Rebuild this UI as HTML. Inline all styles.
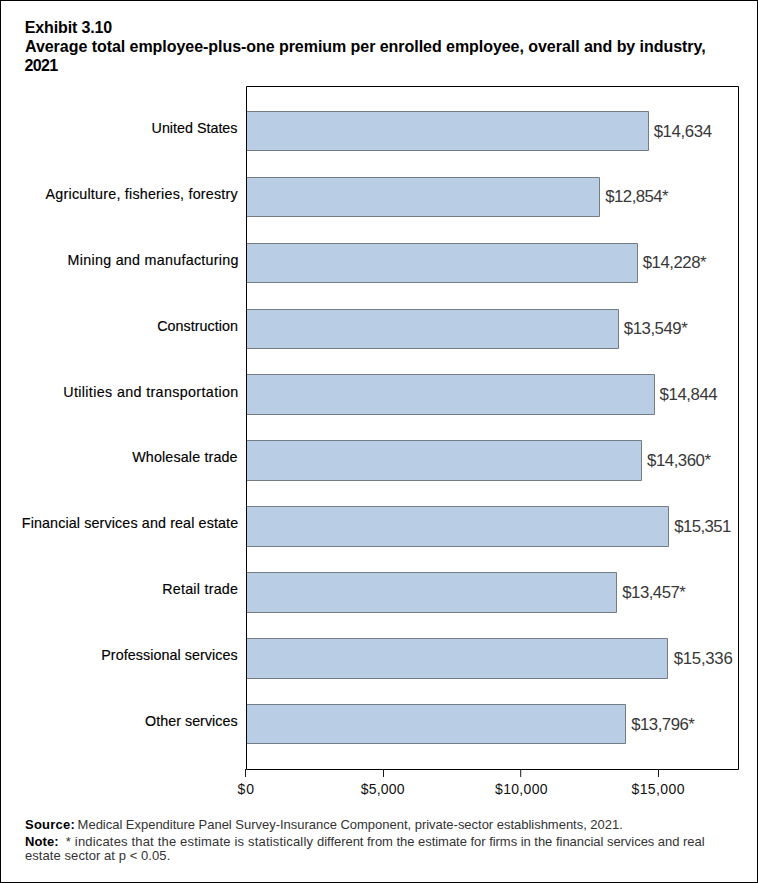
<!DOCTYPE html>
<html><head><meta charset="utf-8"><style>
html,body{margin:0;padding:0;background:#fff;}
#wrap{position:relative;width:758px;height:883px;box-sizing:border-box;border:1px solid #000;overflow:hidden;background:#fff;}
svg{position:absolute;left:-1px;top:-1px;}
text{font-family:"Liberation Sans",sans-serif;white-space:pre;}
.title{font-weight:bold;font-size:16px;fill:#000;}
.val{font-size:16.8px;fill:#383838;}
.cat{font-size:14.3px;fill:#000;stroke:#000;stroke-width:0.15px;}
.tick{font-size:14px;fill:#111;}
.foot{font-size:13px;fill:#333;}
.b{font-weight:bold;fill:#000;}
</style></head><body><div id="wrap">
<svg width="758" height="883" viewBox="0 0 758 883">
<text id="title0" x="24.80" y="32.9" class="title" textLength="87.32" lengthAdjust="spacing">Exhibit 3.10</text>
<text id="title1" x="25.00" y="51.7" class="title" textLength="680.62" lengthAdjust="spacing">Average total employee-plus-one premium per enrolled employee, overall and by industry,</text>
<text id="title2" x="24.40" y="70.6" class="title" textLength="33.79" lengthAdjust="spacing">2021</text>
<path d="M246.5 111.50 H648.50 V150.50 H246.5" fill="#B9CDE5" stroke="#747C85" stroke-width="1"/>
<path d="M246.5 177.50 H599.50 V216.50 H246.5" fill="#B9CDE5" stroke="#747C85" stroke-width="1"/>
<path d="M246.5 243.50 H637.50 V282.50 H246.5" fill="#B9CDE5" stroke="#747C85" stroke-width="1"/>
<path d="M246.5 309.50 H618.50 V348.50 H246.5" fill="#B9CDE5" stroke="#747C85" stroke-width="1"/>
<path d="M246.5 374.50 H654.50 V414.50 H246.5" fill="#B9CDE5" stroke="#747C85" stroke-width="1"/>
<path d="M246.5 440.50 H641.50 V480.50 H246.5" fill="#B9CDE5" stroke="#747C85" stroke-width="1"/>
<path d="M246.5 506.50 H668.50 V546.50 H246.5" fill="#B9CDE5" stroke="#747C85" stroke-width="1"/>
<path d="M246.5 572.50 H616.50 V612.50 H246.5" fill="#B9CDE5" stroke="#747C85" stroke-width="1"/>
<path d="M246.5 638.50 H667.50 V678.50 H246.5" fill="#B9CDE5" stroke="#747C85" stroke-width="1"/>
<path d="M246.5 704.50 H625.50 V743.50 H246.5" fill="#B9CDE5" stroke="#747C85" stroke-width="1"/>
<text id="val0" x="653.64" y="136.50" class="val" textLength="58.44" lengthAdjust="spacing">$14,634</text>
<text id="val1" x="605.33" y="202.42" class="val" textLength="63.26" lengthAdjust="spacing">$12,854*</text>
<text id="val2" x="642.69" y="268.34" class="val" textLength="63.86" lengthAdjust="spacing">$14,228*</text>
<text id="val3" x="623.83" y="334.26" class="val" textLength="63.86" lengthAdjust="spacing">$13,549*</text>
<text id="val4" x="659.61" y="400.18" class="val" textLength="58.04" lengthAdjust="spacing">$14,844</text>
<text id="val5" x="647.11" y="466.10" class="val" textLength="63.86" lengthAdjust="spacing">$14,360*</text>
<text id="val6" x="674.15" y="532.02" class="val" textLength="57.24" lengthAdjust="spacing">$15,351</text>
<text id="val7" x="622.30" y="597.94" class="val" textLength="63.46" lengthAdjust="spacing">$13,457*</text>
<text id="val8" x="673.73" y="663.86" class="val" textLength="59.04" lengthAdjust="spacing">$15,336</text>
<text id="val9" x="631.21" y="729.78" class="val" textLength="63.66" lengthAdjust="spacing">$13,796*</text>
<text id="cat0" x="151.60" y="133.00" class="cat" textLength="85.86" lengthAdjust="spacing">United States</text>
<text id="cat1" x="45.60" y="198.60" class="cat" textLength="192.10" lengthAdjust="spacing">Agriculture, fisheries, forestry</text>
<text id="cat2" x="67.60" y="264.50" class="cat" textLength="170.91" lengthAdjust="spacing">Mining and manufacturing</text>
<text id="cat3" x="157.20" y="331.20" class="cat" textLength="80.79" lengthAdjust="spacing">Construction</text>
<text id="cat4" x="63.20" y="397.10" class="cat" textLength="175.07" lengthAdjust="spacing">Utilities and transportation</text>
<text id="cat5" x="132.20" y="461.70" class="cat" textLength="105.37" lengthAdjust="spacing">Wholesale trade</text>
<text id="cat6" x="21.80" y="528.40" class="cat" textLength="216.38" lengthAdjust="spacing">Financial services and real estate</text>
<text id="cat7" x="162.20" y="594.30" class="cat" textLength="75.79" lengthAdjust="spacing">Retail trade</text>
<text id="cat8" x="101.20" y="660.30" class="cat" textLength="136.48" lengthAdjust="spacing">Professional services</text>
<text id="cat9" x="145.00" y="726.20" class="cat" textLength="92.65" lengthAdjust="spacing">Other services</text>
<path d="M246.5 86.5 V769.5 H738.5 V86.5 Z" fill="none" stroke="#000" stroke-width="1"/>
<path d="M245.5 769 V777" stroke="#1a1a1a" stroke-width="1"/>
<text id="tick0" x="237.50" y="794" class="tick" textLength="16.58" lengthAdjust="spacing">$0</text>
<path d="M383.5 769 V777" stroke="#1a1a1a" stroke-width="1"/>
<text id="tick1" x="360.70" y="794" class="tick" textLength="43.83" lengthAdjust="spacing">$5,000</text>
<path d="M520.7 769 V777" stroke="#1a1a1a" stroke-width="1"/>
<text id="tick2" x="495.10" y="794" class="tick" textLength="52.41" lengthAdjust="spacing">$10,000</text>
<path d="M658.5 769 V777" stroke="#1a1a1a" stroke-width="1"/>
<text id="tick3" x="631.50" y="794" class="tick" textLength="53.01" lengthAdjust="spacing">$15,000</text>
<text id="foot0a" x="25.00" y="828.8" class="foot b" textLength="49.81" lengthAdjust="spacing">Source:</text>
<text id="foot0b" x="77.60" y="828.8" class="foot" textLength="545.22" lengthAdjust="spacing">Medical Expenditure Panel Survey-Insurance Component, private-sector establishments, 2021.</text>
<text id="foot1a" x="25.00" y="845.6" class="foot b" textLength="33.62" lengthAdjust="spacing">Note:</text>
<text id="foot1b" x="65.80" y="845.6" class="foot" textLength="247.17" lengthAdjust="spacing">* indicates that the estimate is statistically</text>
<text id="foot1c" x="317.00" y="845.6" class="foot" textLength="235.35" lengthAdjust="spacing">different from the estimate for firms in the</text>
<text id="foot1d" x="556.00" y="845.6" class="foot" textLength="148.58" lengthAdjust="spacing">financial services and real</text>
<text id="foot2" x="25.00" y="860.4" class="foot" textLength="145.25" lengthAdjust="spacing">estate sector at p &lt; 0.05.</text>
</svg>
</div></body></html>
